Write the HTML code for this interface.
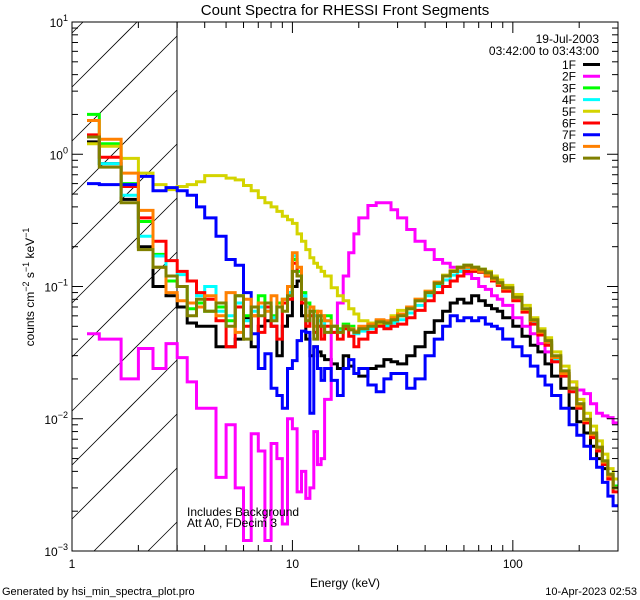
<!DOCTYPE html>
<html><head><meta charset="utf-8"><style>
html,body{margin:0;padding:0;background:#fff;width:640px;height:600px;overflow:hidden;}
svg{display:block;font-family:"Liberation Sans","DejaVu Sans",sans-serif;}
</style></head><body>
<svg id="chart" width="640" height="600" viewBox="0 0 640 600" xmlns="http://www.w3.org/2000/svg">
<rect width="640" height="600" fill="#fff"/>
<text x="345" y="15" font-size="15" text-anchor="middle">Count Spectra for RHESSI Front Segments</text>
<defs><clipPath id="plotclip"><rect x="72" y="22" width="546" height="529"/></clipPath></defs>
<g id="hatch"></g>
<line x1="177" y1="22" x2="177" y2="551" stroke="#000" stroke-width="1"/>
<g id="series" clip-path="url(#plotclip)"></g>
<g id="axes"></g>
<g id="legend"></g>
<text x="187" y="516" font-size="12">Includes Background</text>
<text x="187" y="527" font-size="12">Att A0, FDecim 3</text>
<text x="345" y="587" font-size="12" text-anchor="middle">Energy (keV)</text>
<text transform="translate(34,287) rotate(-90)" font-size="12" text-anchor="middle">counts cm<tspan dy="-5" font-size="9">−2</tspan><tspan dy="5"> s</tspan><tspan dy="-5" font-size="9">−1</tspan><tspan dy="5"> keV</tspan><tspan dy="-5" font-size="9">−1</tspan></text>
<text x="2" y="595" font-size="11">Generated by hsi_min_spectra_plot.pro</text>
<text x="637" y="595" font-size="11" text-anchor="end">10-Apr-2023 02:53</text>
</svg>
<script>
const edges=[1.17,1.33,1.67,2,2.33,2.67,3,3.33,3.67,4,4.5,5,5.5,6,6.5,7,7.5,8,8.5,9,9.5,10,10.5,11,11.5,12,12.5,13,13.5,14,15,16,17,18,19,20,22,24,26,28,30,33,36,40,44,48,52,56,60,65,70,75,80,85,90,100,110,120,130,140,150,165,180,195,210,225,240,255,270,285,300];
const seriesNames=["1F","2F","3F","4F","5F","6F","7F","8F","9F"];
const s1F=[1.24,0.85,0.456,0.2,0.1,0.085,0.07,0.053,0.05,0.05,0.035,0.035,0.04,0.058,0.035,0.05,0.055,0.05,0.03,0.05,0.06,0.1,0.11,0.06,0.04,0.03,0.035,0.032,0.03,0.028,0.026,0.024,0.03,0.025,0.022,0.021,0.024,0.025,0.028,0.027,0.026,0.03,0.035,0.045,0.055,0.065,0.075,0.08,0.075,0.085,0.078,0.072,0.068,0.065,0.058,0.05,0.042,0.036,0.032,0.026,0.021,0.017,0.012,0.0095,0.0078,0.0062,0.005,0.0042,0.0035,0.003];
const s2F=[0.044,0.04,0.02,0.034,0.024,0.037,0.029,0.019,0.012,0.012,0.0036,0.009,0.003,0.0012,0.0077,0.0057,0.0012,0.0065,0.005,0.0016,0.01,0.0084,0.0028,0.004,0.0025,0.003,0.008,0.0045,0.005,0.014,0.045,0.075,0.12,0.18,0.25,0.33,0.41,0.43,0.43,0.38,0.33,0.27,0.22,0.19,0.16,0.15,0.14,0.13,0.125,0.115,0.1,0.095,0.085,0.08,0.072,0.058,0.05,0.044,0.037,0.032,0.027,0.022,0.019,0.0165,0.0155,0.013,0.011,0.0105,0.0102,0.0093];
const s3F=[2.0,1.2,0.6,0.31,0.175,0.11,0.1,0.068,0.075,0.065,0.07,0.055,0.085,0.06,0.07,0.085,0.07,0.06,0.075,0.08,0.09,0.16,0.13,0.09,0.075,0.07,0.065,0.06,0.055,0.06,0.05,0.048,0.052,0.05,0.045,0.047,0.05,0.055,0.052,0.055,0.06,0.068,0.078,0.09,0.105,0.12,0.13,0.14,0.145,0.14,0.135,0.125,0.115,0.108,0.098,0.082,0.067,0.055,0.045,0.038,0.029,0.022,0.017,0.0125,0.0098,0.0078,0.006,0.0048,0.0038,0.0031];
const s4F=[1.35,0.85,0.49,0.24,0.17,0.12,0.123,0.11,0.085,0.1,0.065,0.06,0.075,0.055,0.065,0.07,0.065,0.058,0.07,0.075,0.09,0.17,0.12,0.085,0.07,0.065,0.06,0.055,0.05,0.055,0.05,0.046,0.05,0.048,0.044,0.046,0.048,0.052,0.05,0.053,0.056,0.063,0.072,0.085,0.1,0.112,0.122,0.13,0.135,0.13,0.128,0.12,0.11,0.103,0.094,0.08,0.065,0.053,0.044,0.037,0.028,0.021,0.016,0.012,0.0095,0.0075,0.0058,0.0046,0.0036,0.003];
const s5F=[1.2,1.15,0.93,0.72,0.59,0.54,0.57,0.59,0.62,0.69,0.69,0.66,0.64,0.58,0.53,0.47,0.43,0.4,0.37,0.34,0.32,0.3,0.25,0.22,0.19,0.165,0.15,0.14,0.13,0.12,0.098,0.085,0.078,0.068,0.062,0.055,0.053,0.052,0.054,0.06,0.066,0.07,0.08,0.092,0.108,0.122,0.132,0.14,0.145,0.14,0.135,0.13,0.12,0.112,0.102,0.087,0.072,0.058,0.048,0.041,0.032,0.025,0.019,0.014,0.011,0.0088,0.0068,0.0054,0.0042,0.0035];
const s6F=[1.4,0.95,0.57,0.33,0.22,0.157,0.13,0.11,0.09,0.08,0.055,0.035,0.07,0.05,0.06,0.045,0.07,0.05,0.04,0.075,0.08,0.15,0.12,0.075,0.05,0.06,0.045,0.05,0.04,0.05,0.045,0.04,0.048,0.042,0.035,0.04,0.045,0.05,0.048,0.05,0.052,0.058,0.066,0.078,0.09,0.1,0.11,0.12,0.13,0.13,0.128,0.12,0.11,0.102,0.092,0.078,0.064,0.052,0.043,0.036,0.027,0.021,0.016,0.012,0.0093,0.0072,0.0057,0.0045,0.0035,0.0028];
const s7F=[0.6,0.59,0.59,0.68,0.53,0.56,0.53,0.49,0.4,0.33,0.24,0.16,0.145,0.09,0.044,0.024,0.031,0.017,0.015,0.012,0.024,0.0275,0.039,0.046,0.045,0.011,0.035,0.024,0.0195,0.024,0.0195,0.015,0.024,0.028,0.022,0.024,0.018,0.016,0.02,0.022,0.022,0.017,0.02,0.03,0.04,0.05,0.06,0.055,0.058,0.055,0.058,0.052,0.05,0.048,0.04,0.035,0.03,0.025,0.021,0.018,0.015,0.012,0.009,0.0075,0.0062,0.005,0.0043,0.0033,0.0026,0.0022];
const s8F=[1.8,1.3,0.72,0.376,0.14,0.09,0.078,0.075,0.07,0.085,0.06,0.09,0.045,0.08,0.06,0.075,0.065,0.085,0.07,0.08,0.1,0.18,0.14,0.08,0.06,0.07,0.05,0.065,0.06,0.055,0.05,0.045,0.05,0.048,0.046,0.05,0.052,0.056,0.055,0.058,0.062,0.07,0.08,0.092,0.108,0.12,0.13,0.138,0.14,0.135,0.13,0.122,0.113,0.105,0.096,0.082,0.067,0.055,0.045,0.038,0.029,0.022,0.017,0.0125,0.0097,0.0076,0.006,0.0047,0.0037,0.003];
const s9F=[1.35,0.8,0.43,0.19,0.14,0.12,0.1,0.06,0.08,0.065,0.075,0.05,0.085,0.04,0.07,0.06,0.075,0.055,0.07,0.065,0.085,0.13,0.12,0.08,0.055,0.065,0.04,0.06,0.05,0.045,0.05,0.045,0.05,0.047,0.045,0.048,0.05,0.054,0.053,0.056,0.06,0.068,0.078,0.09,0.106,0.12,0.13,0.14,0.145,0.14,0.135,0.127,0.116,0.107,0.098,0.083,0.068,0.056,0.046,0.039,0.03,0.023,0.017,0.013,0.0099,0.0078,0.0061,0.0048,0.0038,0.003];
const xTickValues=[1,10,100];
const xTickLabels=["1","10","100"];
const yTickExponents=[1,0,-1,-2,-3];
const legendDate="19-Jul-2003";
const legendTime="03:42:00 to 03:43:00";

const NS="http://www.w3.org/2000/svg";
const X0=72,X1=618,Y0=22,Y1=551;
const xMin=1,xMax=300,yMin=0.001,yMax=10;
function xs(e){return X0+(Math.log10(e)-Math.log10(xMin))/(Math.log10(xMax)-Math.log10(xMin))*(X1-X0);}
function ys(v){return Y1-(Math.log10(v)-Math.log10(yMin))/(Math.log10(yMax)-Math.log10(yMin))*(Y1-Y0);}
function mk(tag,attrs,parent){const el=document.createElementNS(NS,tag);for(const k in attrs)el.setAttribute(k,attrs[k]);parent.appendChild(el);return el;}

// hatch lines clipped analytically to x in [72,177], y in [22,551]; line: y = c - (x-72)
const hatch=document.getElementById('hatch');
const HX0=72,HX1=177;
for(let k=-3;k<12;k++){
  const c=87+54*k;
  let xa=HX0, ya=c;
  if(ya>Y1){xa=HX0+(ya-Y1); ya=Y1;}
  let xb=HX1, yb=c-(HX1-HX0);
  if(yb<Y0){xb=HX0+(c-Y0); yb=Y0;}
  if(xa>=xb || ya<Y0 || yb>Y1) continue;
  const ln=mk('line',{x1:xa,y1:ya,x2:xb,y2:yb,stroke:'#000','stroke-width':0.8},hatch);
  
  
}

const seriesData=[s1F,s2F,s3F,s4F,s5F,s6F,s7F,s8F,s9F];
const colors=["#000000","#ff00ff","#00ff00","#00ffff","#d4d400","#ff0000","#0000ff","#ff8000","#808000"];
const sg=document.getElementById('series');
seriesData.forEach((vals,i)=>{
  let d="";
  for(let b=0;b<vals.length;b++){
    const xa=xs(edges[b]).toFixed(1),xb=xs(edges[b+1]).toFixed(1),y=Math.min(Y1,ys(vals[b])).toFixed(1);
    d+=(b===0?"M":"L")+xa+","+y+"L"+xb+","+y;
  }
  const p=mk('path',{d:d,fill:'none',stroke:colors[i],'stroke-width':3,'stroke-linejoin':'miter'},sg);
  
  
});

const ax=document.getElementById('axes');
const frame=mk('rect',{x:X0,y:Y0,width:X1-X0,height:Y1-Y0,fill:'none',stroke:'#000','stroke-width':1},ax);


for(let dec=0;dec<3;dec++){
  for(let m=1;m<10;m++){
    const e=Math.pow(10,dec)*m; if(e>xMax) break;
    const x=xs(e); const L=(m===1)?11:6;
    const t1=mk('line',{x1:x,y1:Y1,x2:x,y2:Y1-L,stroke:'#000','stroke-width':1},ax);
     
    const t2=mk('line',{x1:x,y1:Y0,x2:x,y2:Y0+L,stroke:'#000','stroke-width':1},ax);
     
  }
}
xTickValues.forEach((v,i)=>{
  const t=mk('text',{x:xs(v),y:Y1+17,'font-size':12,'text-anchor':'middle'},ax);
  t.textContent=xTickLabels[i];
   
});
for(let ex=-3;ex<1;ex++){
  for(let m=1;m<10;m++){
    const v=Math.pow(10,ex)*m; const y=ys(v); const L=(m===1)?11:6;
    const t1=mk('line',{x1:X0,y1:y,x2:X0+L,y2:y,stroke:'#000','stroke-width':1},ax);
     
    const t2=mk('line',{x1:X1,y1:y,x2:X1-L,y2:y,stroke:'#000','stroke-width':1},ax);
     
  }
}
yTickExponents.forEach(ex=>{
  const y=ys(Math.pow(10,ex));
  const t=mk('text',{x:X0-4,y:y+5,'font-size':12,'text-anchor':'end'},ax);
   
  const a=document.createElementNS(NS,'tspan'); a.textContent='10'; t.appendChild(a);
  const b=document.createElementNS(NS,'tspan'); b.setAttribute('dy','-6'); b.setAttribute('font-size','9');
  b.textContent=ex<0?('−'+(-ex)):String(ex); t.appendChild(b);
});

const lg=document.getElementById('legend');
const ld=mk('text',{x:599,y:43,'font-size':12,'text-anchor':'end'},lg); ld.textContent=legendDate;
 
const lt=mk('text',{x:599,y:55,'font-size':12,'text-anchor':'end'},lg); lt.textContent=legendTime;
 
seriesNames.forEach((n,i)=>{
  const y=64.5+i*11.7;
  const g=mk('g',{},lg);
  
  
  const t=mk('text',{x:576,y:y+4.5,'font-size':12,'text-anchor':'end'},g); t.textContent=n;
  mk('line',{x1:583,y1:y,x2:600,y2:y,stroke:colors[i],'stroke-width':3},g);
});
</script>
</body></html>
